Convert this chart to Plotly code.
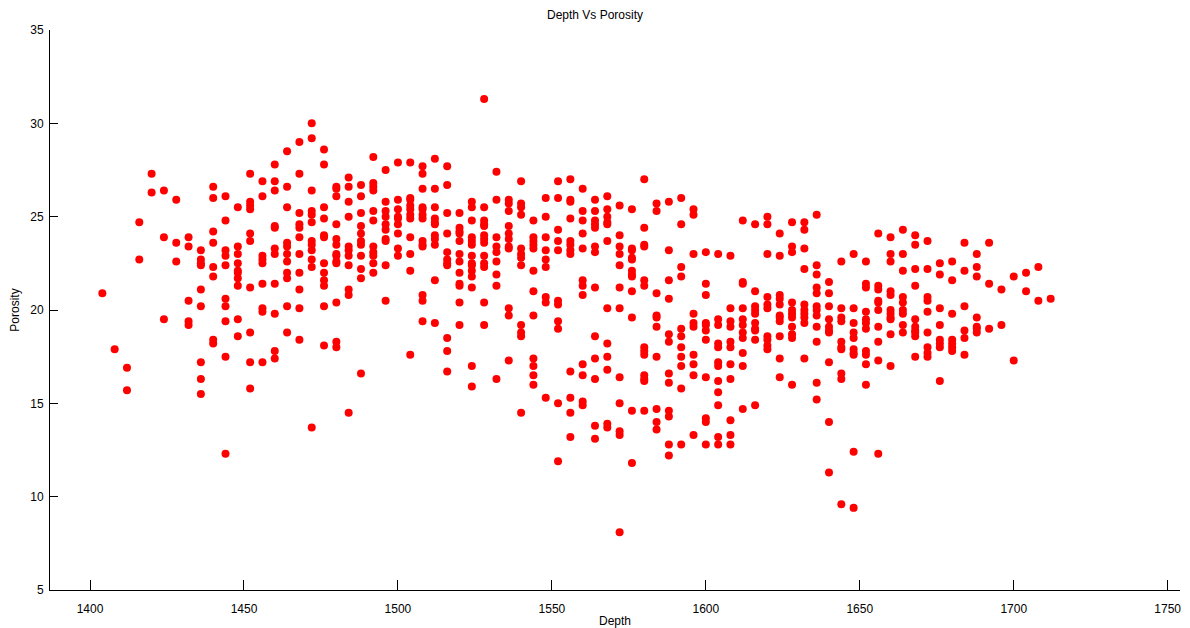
import plotly.graph_objects as go

# Well log samples: depth (every 4 ft) and porosity readings at each depth
depths = [1404, 1408, 1412, 1416, 1420, 1424, 1428, 1432, 1436, 1440,
          1444, 1448, 1452, 1456, 1460, 1464, 1468, 1472, 1476, 1480,
          1484, 1488, 1492, 1496, 1500, 1504, 1508, 1512, 1516, 1520,
          1524, 1528, 1532, 1536, 1540, 1544, 1548, 1552, 1556, 1560,
          1564, 1568, 1572, 1576, 1580, 1584, 1588, 1592, 1596, 1600,
          1604, 1608, 1612, 1616, 1620, 1624, 1628, 1632, 1636, 1640,
          1644, 1648, 1652, 1656, 1660, 1664, 1668, 1672, 1676, 1680,
          1684, 1688, 1692, 1696, 1700, 1704, 1708, 1712]

porosity_at_depth = [
    [20.9],
    [17.9],
    [16.9, 15.7],
    [24.7, 22.7],
    [27.3, 26.3],
    [26.4, 23.9, 19.5],
    [25.9, 23.6, 22.6],
    [23.9, 23.4, 20.5, 19.4, 19.2],
    [23.2, 22.7, 22.5, 22.4, 21.1, 20.2, 17.2, 16.3, 15.5],
    [26.6, 26.0, 24.2, 23.6, 22.3, 21.8, 18.4, 18.2],
    [26.1, 24.8, 23.2, 22.9, 22.4, 20.6, 20.2, 19.4, 17.5, 12.3],
    [25.5, 23.4, 23.0, 22.5, 22.1, 22.0, 21.7, 21.3, 19.5, 18.6],
    [27.3, 25.8, 25.6, 25.4, 24.1, 23.7, 21.2, 18.8, 17.2, 15.8],
    [26.9, 26.1, 22.9, 22.7, 22.5, 21.4, 20.1, 19.9, 17.2],
    [27.8, 26.9, 26.4, 24.5, 24.4, 23.3, 23.0, 21.4, 19.8, 17.8, 17.4],
    [28.5, 26.6, 25.5, 23.6, 23.4, 23.0, 22.6, 22.0, 21.7, 20.2, 18.8],
    [29.0, 27.3, 25.2, 24.6, 24.4, 23.9, 23.0, 22.0, 21.1, 20.1, 18.4],
    [30.0, 29.2, 26.4, 25.3, 25.1, 24.7, 23.7, 23.5, 23.2, 22.7, 22.3, 13.7],
    [28.6, 27.8, 25.5, 24.9, 24.0, 23.9, 22.5, 22.0, 21.6, 21.3, 20.2, 18.1],
    [26.6, 26.5, 26.1, 24.6, 23.8, 23.5, 23.0, 22.9, 22.6, 22.5, 20.4, 18.3, 18.0],
    [27.1, 26.6, 25.8, 25.0, 23.4, 23.2, 22.9, 22.4, 21.1, 20.8, 14.5],
    [26.7, 26.1, 25.2, 24.5, 24.1, 23.7, 23.5, 22.9, 22.2, 21.7, 16.6],
    [28.2, 26.8, 26.6, 26.4, 25.3, 24.8, 23.4, 23.1, 22.9, 22.5, 22.0],
    [27.5, 25.8, 25.3, 25.0, 24.6, 24.3, 23.8, 23.7, 22.4, 20.5],
    [27.9, 25.9, 25.4, 25.0, 24.9, 24.6, 24.1, 23.3, 22.9],
    [27.9, 26.0, 25.9, 25.6, 25.4, 25.1, 24.9, 23.9, 23.0, 22.1, 17.6],
    [27.7, 27.3, 26.5, 25.5, 25.4, 25.1, 24.9, 23.7, 23.5, 23.4, 20.8, 20.5, 19.4],
    [28.1, 26.5, 25.5, 24.9, 24.7, 24.6, 24.0, 23.8, 23.5, 21.6, 19.3],
    [27.7, 26.7, 25.2, 24.1, 23.1, 22.7, 22.5, 22.4, 18.5, 17.8, 16.7],
    [25.2, 24.4, 24.2, 24.1, 23.7, 23.0, 22.6, 22.0, 21.4, 21.3, 20.4, 19.2],
    [25.8, 25.5, 24.8, 23.9, 23.7, 23.5, 22.9, 22.5, 22.4, 22.1, 21.8, 21.2, 17.0, 15.9],
    [31.3, 25.5, 24.8, 24.6, 24.5, 24.0, 23.8, 23.6, 22.9, 22.5, 22.3, 20.4, 19.2],
    [27.4, 25.9, 23.9, 23.4, 23.1, 22.6, 21.9, 21.3, 16.3],
    [25.9, 25.7, 25.3, 24.5, 24.1, 23.8, 23.4, 23.3, 20.1, 19.7, 17.3],
    [26.9, 25.7, 25.5, 25.1, 23.3, 23.0, 22.8, 22.4, 19.2, 18.8, 18.6, 14.5],
    [24.8, 23.9, 23.7, 23.5, 23.3, 22.1, 21.0, 19.7, 17.4, 17.0, 16.5, 16.0],
    [26.0, 25.0, 23.9, 23.2, 22.7, 22.3, 20.7, 20.4, 15.3],
    [26.9, 26.0, 24.3, 23.7, 23.2, 20.5, 20.3, 19.4, 19.0, 15.0, 11.9],
    [27.0, 25.9, 25.8, 24.9, 23.7, 23.5, 23.2, 23.0, 16.7, 15.3, 14.5, 13.2],
    [26.5, 25.3, 24.8, 24.1, 23.3, 21.6, 21.3, 20.8, 17.1, 16.5, 15.1, 14.9],
    [25.9, 25.3, 24.8, 24.6, 24.4, 23.4, 23.1, 21.2, 18.6, 17.4, 16.3, 13.8, 13.1],
    [26.1, 25.4, 25.0, 24.7, 24.6, 23.7, 20.1, 18.2, 17.5, 16.8, 13.9, 13.7],
    [25.6, 24.0, 23.4, 23.0, 22.4, 21.2, 20.1, 16.4, 15.0, 13.5, 13.3, 8.1],
    [25.4, 23.3, 23.2, 22.8, 22.7, 22.1, 21.9, 21.8, 21.0, 19.6, 14.6, 11.8],
    [27.0, 24.4, 23.5, 23.4, 21.6, 21.3, 18.0, 17.8, 17.6, 16.5, 16.3, 16.2, 14.6],
    [25.7, 25.3, 20.9, 19.7, 19.6, 19.1, 17.5, 14.7, 14.0, 13.6],
    [25.8, 23.2, 21.6, 20.6, 18.7, 18.3, 16.6, 16.1, 14.6, 14.3, 12.8, 12.2],
    [26.0, 24.6, 22.3, 21.8, 19.0, 18.6, 18.0, 17.5, 17.0, 15.8, 12.8],
    [25.4, 25.1, 23.0, 19.8, 19.3, 19.1, 17.6, 17.1, 16.5, 13.3],
    [23.1, 21.4, 20.8, 19.3, 19.2, 18.9, 18.4, 16.4, 14.2, 14.0, 12.8],
    [23.0, 19.5, 19.2, 18.2, 18.0, 17.2, 17.0, 16.2, 15.6, 14.9, 13.2, 12.8],
    [22.9, 20.1, 19.4, 19.1, 18.3, 18.0, 17.1, 16.3, 14.1, 13.3, 12.8],
    [24.8, 21.5, 21.4, 20.1, 19.5, 19.2, 18.8, 18.5, 17.7, 17.0, 14.7],
    [24.6, 21.0, 20.2, 20.0, 19.8, 19.3, 19.0, 18.9, 18.4, 14.9],
    [25.0, 24.6, 23.0, 20.7, 20.3, 20.1, 18.6, 18.4, 18.1, 17.9],
    [24.1, 22.9, 20.8, 20.6, 20.3, 19.7, 19.6, 19.4, 18.6, 17.4, 16.4],
    [24.7, 23.4, 23.1, 20.4, 20.0, 19.8, 19.6, 19.1, 18.7, 18.5, 16.0],
    [24.7, 24.3, 23.3, 22.2, 20.3, 20.0, 19.8, 19.6, 19.3, 17.4],
    [25.1, 22.4, 21.9, 21.2, 20.9, 20.2, 20.0, 19.7, 19.1, 18.3, 16.1, 15.2],
    [21.5, 20.9, 20.2, 19.5, 19.1, 18.9, 18.8, 17.2, 14.0, 11.3],
    [22.6, 20.1, 19.6, 19.4, 18.3, 18.0, 17.9, 16.6, 16.3, 9.6],
    [23.0, 20.1, 19.3, 18.8, 18.5, 17.9, 17.7, 17.6, 12.4, 9.4],
    [22.6, 21.4, 21.2, 19.9, 19.5, 19.3, 19.0, 17.8, 17.6, 17.1, 16.0],
    [24.1, 21.3, 21.1, 20.5, 20.4, 20.0, 19.1, 18.3, 17.3, 12.3],
    [23.9, 23.0, 22.6, 21.0, 20.8, 20.0, 19.8, 19.6, 19.5, 18.7, 17.0],
    [24.3, 23.0, 22.1, 20.7, 20.4, 20.0, 19.8, 19.2, 18.8],
    [24.0, 23.5, 22.2, 21.3, 19.5, 19.1, 18.9, 18.8, 18.6, 17.5],
    [23.7, 22.2, 20.7, 20.5, 19.9, 18.8, 18.0, 17.7, 17.5],
    [22.5, 21.9, 20.1, 19.2, 18.4, 18.2, 18.0, 16.2],
    [22.6, 21.6, 19.8, 18.4, 18.2, 18.0, 17.8],
    [23.6, 22.1, 20.2, 18.9, 18.5, 17.6],
    [23.0, 22.3, 21.8, 19.6, 19.1, 19.0, 18.8],
    [23.6, 21.4, 19.0],
    [21.1, 19.2],
    [21.8, 17.3],
    [22.0, 21.0],
    [22.3, 20.5],
    [20.6],
]

x_ticks = [1400, 1450, 1500, 1550, 1600, 1650, 1700, 1750]
y_ticks = [5, 10, 15, 20, 25, 30, 35]

# Flatten into one point per sample
depth_pts = []
poro_pts = []
for d, vals in zip(depths, porosity_at_depth):
    for v in vals:
        depth_pts.append(d)
        poro_pts.append(v)

FONT = "Liberation Sans, Arial, sans-serif"

fig = go.Figure(
    go.Scatter(
        x=depth_pts,
        y=poro_pts,
        mode="markers",
        marker=dict(color="#ff0000", size=8, line=dict(width=0)),
        showlegend=False,
        hoverinfo="x+y",
    )
)

fig.update_layout(
    width=1190,
    height=628,
    paper_bgcolor="white",
    plot_bgcolor="white",
    margin=dict(l=50, r=10, t=30, b=38),
    font=dict(family=FONT, size=12, color="black"),
    title=dict(
        text="Depth Vs Porosity",
        x=0.5, xanchor="center",
        y=1 - 15 / 628, yanchor="middle",
        font=dict(family=FONT, size=12, color="black"),
    ),
)

fig.update_xaxes(
    range=[1387, 1754],
    tickvals=x_ticks,
    ticks="inside",
    ticklen=10,
    tickwidth=1,
    tickcolor="black",
    ticklabelstandoff=8,
    automargin=False,
    showline=True,
    linecolor="black",
    linewidth=1,
    showgrid=False,
    zeroline=False,
    tickfont=dict(family=FONT, size=12, color="black"),
    title=dict(text="Depth", font=dict(family=FONT, size=12), standoff=4),
)

fig.update_yaxes(
    range=[5, 35],
    tickvals=y_ticks,
    ticks="inside",
    ticklen=8,
    tickwidth=1,
    tickcolor="black",
    ticklabelstandoff=3,
    automargin=False,
    showline=True,
    linecolor="black",
    linewidth=1,
    showgrid=False,
    zeroline=False,
    tickfont=dict(family=FONT, size=12, color="black"),
    title=dict(text="Porosity", font=dict(family=FONT, size=12), standoff=8),
)

fig.write_html("out.html")
